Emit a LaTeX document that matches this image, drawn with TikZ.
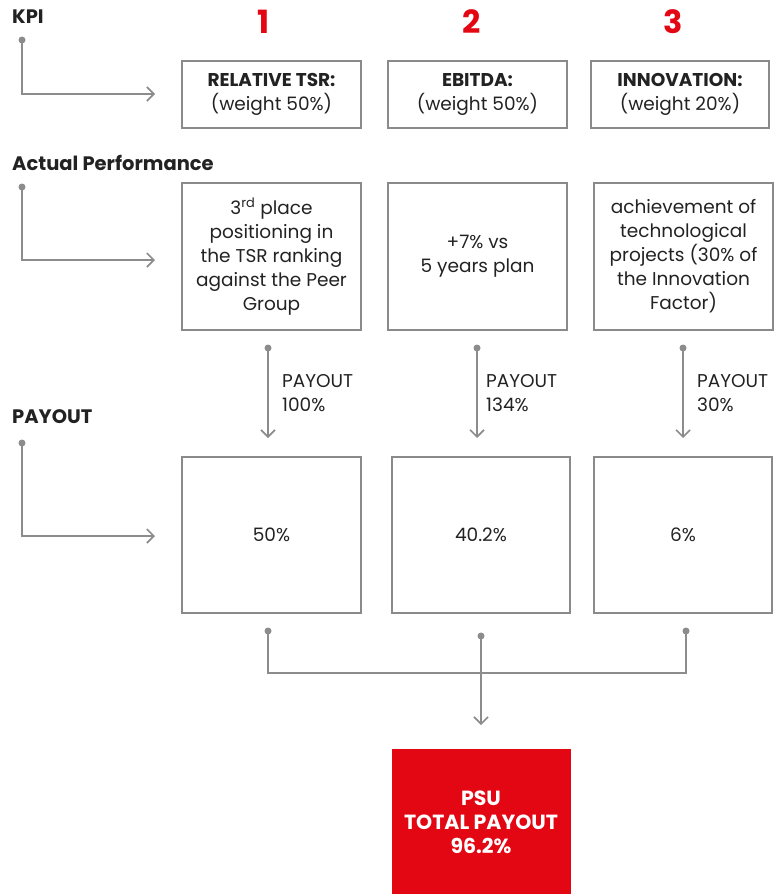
\documentclass[tikz,border=0pt]{standalone}
\usepackage{fontspec}
\setmainfont{Poppins}
\usetikzlibrary{arrows.meta}
\definecolor{kred}{HTML}{E30613}
\definecolor{kgray}{HTML}{8C8C8C}
\definecolor{kbox}{HTML}{8A8A8A}
\definecolor{ktext}{HTML}{222222}
\begin{document}
\begin{tikzpicture}[x=1pt,y=-1pt,
 box/.style={draw=kbox, line width=1.2pt, minimum width=179pt, inner sep=0pt, align=center, text=ktext, font=\fontsize{18.5}{24}\selectfont},
 conn/.style={draw=kgray, line width=2pt, -{Straight Barb[length=7pt,width=14pt,line width=1.6pt]}},
 line/.style={draw=kgray, line width=2pt},
 dot/.style={circle, fill=kgray, inner sep=0pt, minimum size=7pt},
 head/.style={anchor=west, inner sep=0pt, font=\fontsize{19.5}{22}\selectfont\bfseries, text=ktext},
 num/.style={font=\fontsize{32}{32}\selectfont\bfseries, text=kred},
 plabel/.style={anchor=west, inner sep=0pt, align=left, text=ktext, font=\fontsize{18.5}{24}\selectfont}
]
\useasboundingbox (0,0) rectangle (781,894);
% headings
\node[head] (hk) at (12,17) {KPI};
\node[head] (ha) at (12,163) {Actual Performance};
\node[head] (hp) at (12,417) {PAYOUT};
% numbers
\node[num] (n1) at (264,22) {1};
\node[num] (n2) at (472,22) {2};
\node[num] (n3) at (673,22) {3};
% KPI boxes
\node[box, minimum height=67pt] (k1) at (271.5,94.5) {\textbf{RELATIVE TSR:}\\(weight 50\%)};
\node[box, minimum height=67pt] (k2) at (477.5,94.5) {\textbf{EBITDA:}\\(weight 50\%)};
\node[box, minimum height=67pt, minimum width=178pt] (k3) at (680,94.5) {\textbf{INNOVATION:}\\(weight 20\%)};
% actual performance boxes
\node[box, minimum height=147pt] (a1) at (271.5,256.5) {3\textsuperscript{rd} place\\positioning in\\the TSR ranking\\against the Peer\\Group};
\node[box, minimum height=147pt] (a2) at (477.5,256.5) {+7\% vs\\5 years plan};
\node[box, minimum height=147pt] (a3) at (683.5,256.5) {achievement of\\technological\\projects (30\% of\\the Innovation\\Factor)};
% payout boxes
\node[box, minimum height=156pt] (p1) at (271.5,535) {50\%};
\node[box, minimum height=156pt, minimum width=178pt] (p2) at (481,535) {40.2\%};
\node[box, minimum height=156pt, minimum width=178pt] (p3) at (683,535) {6\%};
% PSU
\node[fill=kred, minimum width=179pt, minimum height=146pt, inner sep=0pt, align=center, text=white, font=\fontsize{20.5}{24}\selectfont\bfseries] (psu) at (481,822) {PSU\\TOTAL PAYOUT\\96.2\%};
% left connectors
\node[dot] (dk) at (22,40) {};
\coordinate (ek) at (155,94);
\draw[conn] (dk.center) |- (ek);
\node[dot] (da) at (22,187) {};
\coordinate (ea) at (155,260);
\draw[conn] (da.center) |- (ea);
\node[dot] (dp) at (22,443) {};
\coordinate (ep) at (155,536);
\draw[conn] (dp.center) |- (ep);
% payout arrows
\node[dot] (d1) at (268,348) {};
\coordinate (e1) at (268,438);
\draw[conn] (d1.center) -- (e1);
\node[plabel] (l1) at (282,393) {PAYOUT\\100\%};
\node[dot] (d2) at (477,348) {};
\coordinate (e2) at (477,438);
\draw[conn] (d2.center) -- (e2);
\node[plabel] (l2) at (486,393) {PAYOUT\\134\%};
\node[dot] (d3) at (683,348) {};
\coordinate (e3) at (683,438);
\draw[conn] (d3.center) -- (e3);
\node[plabel] (l3) at (697,393) {PAYOUT\\30\%};
% merge
\node[dot] (m1) at (268,631) {};
\node[dot] (m2) at (481,636) {};
\node[dot] (m3) at (686,631) {};
\coordinate (j) at (481,673);
\coordinate (je) at (481,725);
\draw[line] (m1.center) |- (j) -| (m3.center);
\draw[conn] (m2.center) -- (je);
\end{tikzpicture}
\end{document}
